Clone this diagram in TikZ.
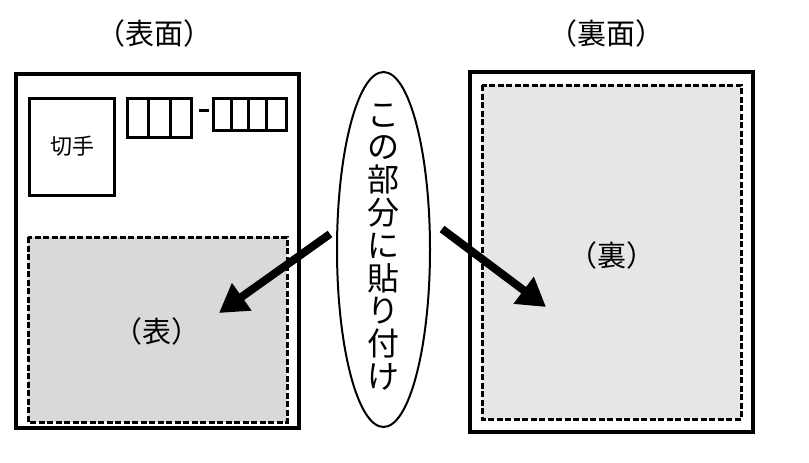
\documentclass[tikz,border=0pt]{standalone}
\usepackage{fontspec}
\setmainfont{Noto Sans CJK JP}
\usetikzlibrary{arrows.meta,shapes.geometric}
\tikzset{
  card/.style={draw, line width=4pt},
  pastearea/.style={draw, line width=3pt, dash pattern=on 6pt off 2.5pt},
  thin box/.style={draw, line width=3pt},
  bigarrow/.style={line width=8pt, -{Triangle[length=28pt,width=32pt]}},
  lbl/.style={inner sep=0pt, font=\fontsize{29}{34}\selectfont},
}
\begin{document}
\begin{tikzpicture}[x=1pt,y=-1pt]
\useasboundingbox (0,0) rectangle (809,463);
% titles
\node[lbl] (t1) at (154,33) {（表面）};
\node[lbl] (t2) at (606,33) {（裏面）};
% left card
\draw[card] (16,74) rectangle (299,428);
\draw[thin box] (29,98) rectangle (114,195);
\node[inner sep=0pt, font=\fontsize{22}{26}\selectfont] (stamp) at (72,146) {切手};
% postal code boxes
\draw[thin box] (127,98) rectangle (191,137);
\draw[line width=3pt] (148,98) -- (148,137) (170,98) -- (170,137);
\draw[line width=3pt] (199,110) -- (209,110);
\draw[thin box] (213,98) rectangle (286,130);
\draw[line width=3pt] (231,98) -- (231,130) (248,98) -- (248,130) (266,98) -- (266,130);
% front paste area
\draw[pastearea, fill={rgb,255:red,217;green,217;blue,217}] (28,237) rectangle (287,422);
\node[lbl] (front) at (157,331) {（表）};
% right card
\draw[card] (470,72) rectangle (753,432);
\draw[pastearea, fill={rgb,255:red,230;green,230;blue,230}] (482,85) rectangle (741,419);
\node[lbl] (back) at (612,255) {（裏）};
% ellipse
\node[draw, line width=2pt, ellipse, minimum width=93pt, minimum height=355pt, inner sep=0pt] (ell) at (383.5,249.5) {};
\node[inner sep=0pt, align=center, font=\fontsize{32}{32.8}\selectfont] (vt) at (383.5,247) {こ\\の\\部\\分\\に\\貼\\り\\付\\け};
% arrows
\coordinate (la) at (330,234);
\coordinate (lb) at (219,313);
\coordinate (ra) at (442,229);
\coordinate (rb) at (546,307);
\draw[bigarrow] (la) -- (lb);
\draw[bigarrow] (ra) -- (rb);
\end{tikzpicture}
\end{document}
